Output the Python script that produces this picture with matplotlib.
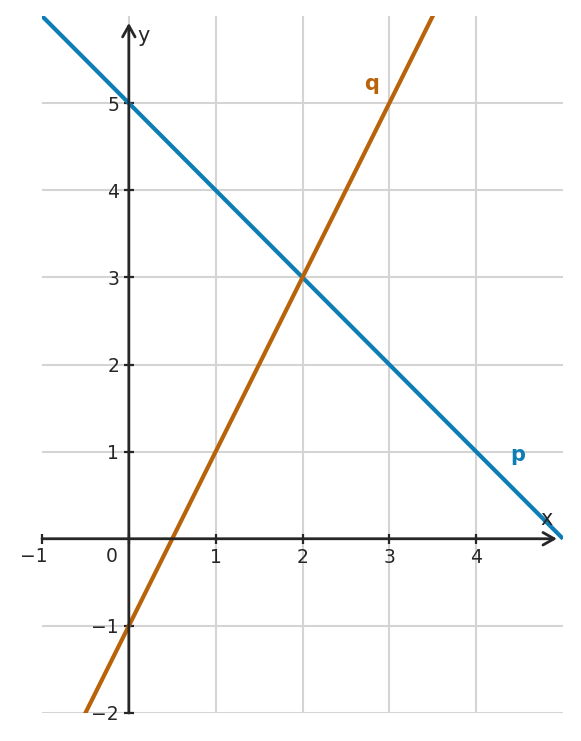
import matplotlib
matplotlib.use("Agg")
import matplotlib.pyplot as plt
import numpy as np

# ---- data ----
x_range = [-1, 5]
p_intercept = 5
p_slope = -1
q_intercept = -1
q_slope = 2
x_ticks = [1, 2, 3, 4]
x_tick_labels = ["1", "2", "3", "4"]
y_ticks = [-2, -1, 1, 2, 3, 4, 5]
y_tick_labels = ["−2", "−1", "1", "2", "3", "4", "5"]

BLUE = "#0C7DB5"
ORANGE = "#B8620A"
DARK = "#262626"
GRID = "#D4D4D4"

fig = plt.figure(figsize=(5.81, 7.41), dpi=100)
ax = fig.add_axes([42/581, 28/741, 521/581, 697/741])
ax.set_xlim(-1, 5)
ax.set_ylim(-2, 6)

# grid
for xv in x_ticks:
    ax.axvline(xv, color=GRID, lw=1.5, zorder=0)
ax.axvline(0, color=GRID, lw=1.5, zorder=0)
for yv in y_ticks:
    ax.axhline(yv, color=GRID, lw=1.5, zorder=0)

# lines
xs = np.array(x_range, dtype=float)
ax.plot(xs, p_intercept + p_slope * xs, color=BLUE, lw=3, zorder=3, solid_capstyle="butt")
ax.plot(xs, q_intercept + q_slope * xs, color=ORANGE, lw=3, zorder=3, solid_capstyle="butt")

# spines positioned at origin (invisible; ticks follow them)
ax.spines["left"].set_position(("data", 0))
ax.spines["bottom"].set_position(("data", 0))
for s in ax.spines.values():
    s.set_visible(False)

ax.set_xticks([-1, 0] + x_ticks)
ax.set_xticklabels(["", ""] + x_tick_labels)
ax.set_yticks(y_ticks)
ax.set_yticklabels(y_tick_labels)
ax.tick_params(direction="inout", length=7, width=1.6, color=DARK,
               labelcolor=DARK, labelsize=13.5, pad=3.5)

# axis lines with arrowheads
style = "->,head_length=0.8,head_width=0.45"
ax.annotate("", xy=(4.93, 0), xytext=(-1, 0),
            arrowprops=dict(arrowstyle=style, lw=2, color=DARK,
                            shrinkA=0, shrinkB=0), zorder=5)
ax.annotate("", xy=(0, 5.92), xytext=(0, -2),
            arrowprops=dict(arrowstyle=style, lw=2, color=DARK,
                            shrinkA=0, shrinkB=0), zorder=5)

# extra labels
ax.text(-1.094, -0.207, "−1", ha="center", va="center", fontsize=13.5, color=DARK)
ax.text(-0.196, -0.207, "0", ha="center", va="center", fontsize=13.5, color=DARK)
ax.text(4.816, 0.23, "x", ha="center", va="center", fontsize=15, color=DARK)
ax.text(0.17, 5.77, "y", ha="center", va="center", fontsize=15, color=DARK)
ax.text(2.80, 5.22, "q", ha="center", va="center", fontsize=15, color=ORANGE, fontweight="bold")
ax.text(4.48, 0.96, "p", ha="center", va="center", fontsize=15, color=BLUE, fontweight="bold")

fig.savefig("out.png", dpi=100)
